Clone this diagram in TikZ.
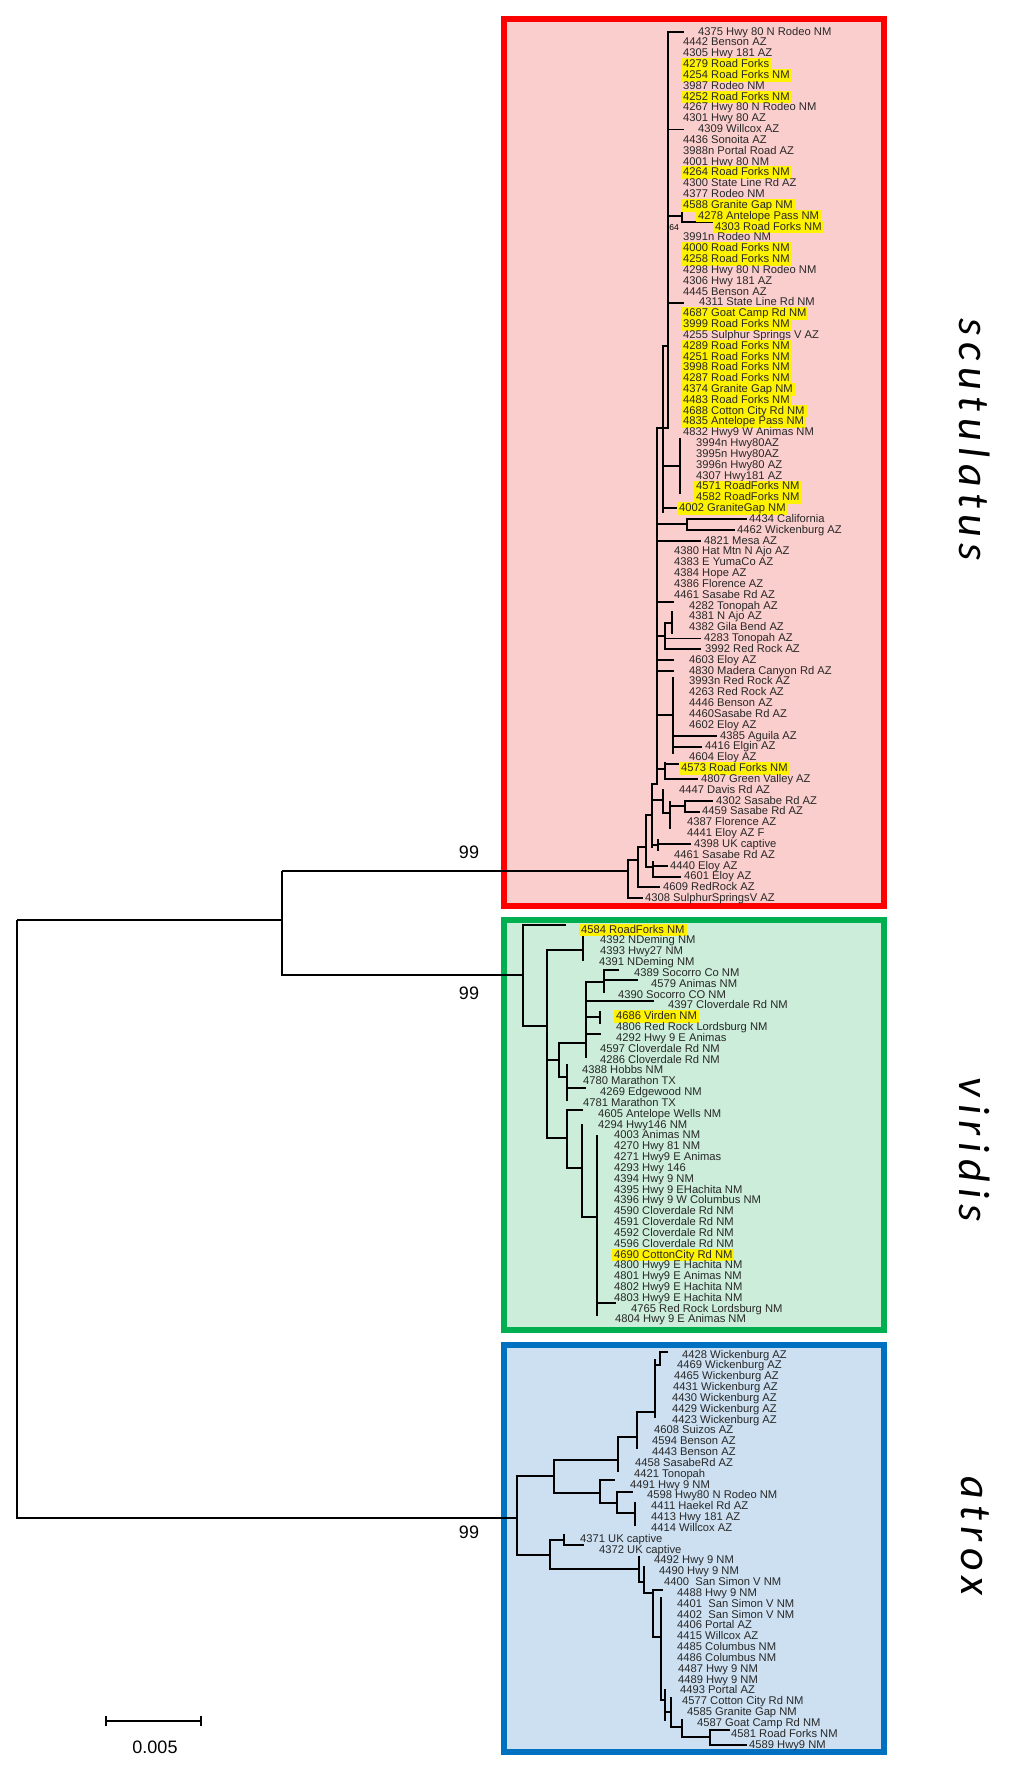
\documentclass[tikz,border=0pt]{standalone}
\usepackage{fontspec}
\setmainfont{Liberation Sans}
\newfontfamily\spf[LetterSpace=15]{Carlito}
\begin{document}
\begin{tikzpicture}[x=1pt,y=-1pt,
  lbl/.style={anchor=west,inner xsep=2pt,inner ysep=0.8pt,text height=8.6pt,text depth=2.4pt,
     font=\fontsize{11.2}{11.2}\selectfont,text={rgb,255:red,40;green,40;blue,40}},
  hl0/.style={}, hl1/.style={fill=yellow},
  br/.style={line width=1.5pt,line cap=rect},
  stem/.style={line width=1.3pt},
  sp/.style={rotate=-90,font=\spf\itshape\fontsize{44}{44}\selectfont},
  bs/.style={font=\fontsize{18}{18}\selectfont}]
\useasboundingbox (0,0) rectangle (1024,1775);
% boxes
\draw[line width=6pt,draw={rgb,255:red,255;green,0;blue,0},fill={rgb,255:red,251;green,206;blue,206}] (504,19) rectangle (884,906);
\draw[line width=6pt,draw={rgb,255:red,0;green,176;blue,80},fill={rgb,255:red,204;green,237;blue,218}] (504,920) rectangle (884,1330);
\draw[line width=6pt,draw={rgb,255:red,0;green,112;blue,192},fill={rgb,255:red,204;green,224;blue,242}] (504,1345) rectangle (884,1752);
% species
\node[sp] (nsc) at (975,440) {scutulatus};
\node[sp] (nvi) at (975,1150) {viridis};
\node[sp] (nat) at (975,1536) {atrox};
% backbone
\draw[stem] (282,871) -- (628,871);
\draw[stem] (282,871) -- (282,975) -- (523,975);
\draw[stem] (17,920) -- (282,920);
\draw[stem] (17,920) -- (17,1518) -- (517,1518);
\node[bs] (b1) at (469,852) {99};
\node[bs] (b2) at (469,993) {99};
\node[bs] (b3) at (469,1532) {99};
\node[font=\fontsize{8.5}{8.5}\selectfont,inner sep=0] (b64) at (674,228) {64};
% scale bar
\draw[stem] (106,1721) -- (201,1721);
\draw[stem] (106,1716) -- (106,1726) (201,1716) -- (201,1726);
\node[bs] (scl) at (155,1747) {0.005};
% scutulatus tree
\draw[br] (668,32)--(668,428) (668,32)--(683,32) (668,129.5)--(683,129.5) (668,303)--(683,303)
 (668,216)--(682,216) (682,211)--(682,222) (682,211)--(696,211) (682,222)--(713,222)
 (663,346)--(663,512) (663,346)--(668,346) (680,439)--(680,493) (663,466)--(680,466) (663,508)--(677,508)
 (657,428)--(668,428) (657,428)--(657,784)
 (657,524)--(687,524) (687,519)--(687,530) (687,519)--(746,519) (687,530)--(734,530)
 (657,541)--(700,541) (657,602)--(673,602)
 (672,612)--(672,633) (665,623)--(672,623) (665,623)--(665,649) (657,636)--(665,636) (665,638.5)--(700,638.5) (665,649)--(700,649)
 (657,660)--(673,660) (657,671)--(673,671)
 (673,678)--(673,753) (657,715)--(673,715) (673,736)--(716,736) (673,747)--(701,747)
 (665,763)--(665,779) (657,769)--(665,769) (665,764)--(678,764) (665,779)--(697,779)
 (652,784)--(652,847) (652,784)--(657,784)
 (663,790)--(663,813) (652,800)--(663,800) (670,802)--(670,828) (663,813)--(670,813) (670,806)--(685,806) (685,801)--(685,812) (685,801)--(712,801) (685,812)--(699,812)
 (652,845)--(658,845) (658,840)--(658,850) (658,844)--(690,844)
 (646,815)--(646,867) (646,815)--(652,815) (646,867)--(653,867) (653,862)--(653,877) (653,877)--(680,877) (653,866)--(667,866)
 (638,847)--(638,887) (638,847)--(646,847) (638,887)--(659,887)
 (628,860)--(628,898) (628,860)--(638,860) (628,898)--(642,898);
% viridis tree
\draw[br] (523,925)--(523,1026) (523,925)--(565,925) (523,1026)--(547,1026)
 (547,950)--(547,1138) (547,950)--(583,950) (583,937)--(583,960)
 (547,1060)--(559,1060) (559,1043)--(559,1077) (559,1043)--(586,1043)
 (586,982)--(586,1057) (586,982)--(604,982) (604,970)--(604,992) (604,970)--(618,970) (604,980)--(637,980)
 (586,1001)--(653,1001) (586,1017)--(600,1017) (600,1012)--(600,1023) (586,1034)--(600,1034)
 (559,1077)--(567,1077) (567,1065)--(567,1100) (567,1088)--(585,1088)
 (547,1138)--(567,1138) (567,1110)--(567,1168) (567,1110)--(582,1110) (567,1168)--(582,1168)
 (582,1125)--(582,1217) (582,1217)--(597,1217) (597,1136)--(597,1315) (597,1303)--(615,1303);
% atrox tree
\draw[br] (517,1476)--(517,1555) (517,1476)--(554,1476) (554,1460)--(554,1493)
 (554,1460)--(618,1460) (618,1437)--(618,1471) (618,1437)--(637,1437) (637,1412)--(637,1448)
 (637,1412)--(655,1412) (655,1360)--(655,1417) (655,1365)--(660,1365) (660,1352)--(660,1365) (660,1352)--(667,1352)
 (554,1493)--(600,1493) (600,1480)--(600,1503) (600,1480)--(614,1480) (600,1503)--(617,1503)
 (617,1492)--(617,1513) (617,1492)--(632,1492) (617,1513)--(635,1513) (635,1503)--(635,1525)
 (517,1555)--(550,1555) (550,1540)--(550,1569) (550,1540)--(564,1540) (564,1535)--(564,1545) (564,1545)--(583,1545)
 (550,1569)--(639,1569) (639,1557)--(639,1582) (639,1582)--(644,1582) (644,1567)--(644,1593)
 (644,1593)--(653,1593) (653,1590)--(653,1637) (653,1590)--(662,1590) (653,1637)--(661,1637)
 (661,1598)--(661,1700) (661,1700)--(665,1700) (665,1690)--(665,1720) (665,1712)--(671,1712) (671,1698)--(671,1727)
 (671,1727)--(682,1727) (682,1720)--(682,1737) (682,1737)--(710,1737) (710,1730)--(710,1745)
 (710,1730)--(729,1730) (710,1745)--(746,1745);
% scutulatus labels
\foreach \x/\h/\t [count=\i] in {698/0/4375 Hwy 80 N Rodeo NM,683/0/4442 Benson AZ,683/0/4305 Hwy 181 AZ,683/1/4279 Road Forks,683/1/4254 Road Forks NM,683/0/3987 Rodeo NM,683/1/4252 Road Forks NM,683/0/4267 Hwy 80 N Rodeo NM,683/0/4301 Hwy 80 AZ,698/0/4309 Willcox AZ,
683/0/4436 Sonoita AZ,683/0/3988n Portal Road AZ,683/0/4001 Hwy 80 NM,683/1/4264 Road Forks NM,683/0/4300 State Line Rd AZ,683/0/4377 Rodeo NM,683/1/4588 Granite Gap NM,698/1/4278 Antelope Pass NM,715/1/4303 Road Forks NM,683/0/3991n Rodeo NM,
683/1/4000 Road Forks NM,683/1/4258 Road Forks NM,683/0/4298 Hwy 80 N Rodeo NM,683/0/4306 Hwy 181 AZ,683/0/4445 Benson AZ,699/0/4311 State Line Rd NM,683/1/4687 Goat Camp Rd NM,683/1/3999 Road Forks NM,683/0/4255 Sulphur Springs V AZ,683/1/4289 Road Forks NM,
683/1/4251 Road Forks NM,683/1/3998 Road Forks NM,683/1/4287 Road Forks NM,683/1/4374 Granite Gap NM,683/1/4483 Road Forks NM,683/1/4688 Cotton City Rd NM,683/1/4835 Antelope Pass NM,683/0/4832 Hwy9 W Animas NM,696/0/3994n Hwy80AZ,696/0/3995n Hwy80AZ,
696/0/3996n Hwy80 AZ,696/0/4307 Hwy181 AZ,696/1/4571 RoadForks NM,696/1/4582 RoadForks NM,679/1/4002 GraniteGap NM,749/0/4434 California,737/0/4462 Wickenburg AZ,704/0/4821 Mesa AZ,674/0/4380 Hat Mtn N Ajo AZ,674/0/4383 E YumaCo AZ,
674/0/4384 Hope AZ,674/0/4386 Florence AZ,674/0/4461 Sasabe Rd AZ,689/0/4282 Tonopah AZ,689/0/4381 N Ajo AZ,689/0/4382 Gila Bend AZ,704/0/4283 Tonopah AZ,705/0/3992 Red Rock AZ,689/0/4603 Eloy AZ,689/0/4830 Madera Canyon Rd AZ,
689/0/3993n Red Rock AZ,689/0/4263 Red Rock AZ,689/0/4446 Benson AZ,689/0/4460Sasabe Rd AZ,689/0/4602 Eloy AZ,720/0/4385 Aguila AZ,705/0/4416 Elgin AZ,689/0/4604 Eloy AZ,681/1/4573 Road Forks NM,701/0/4807 Green Valley AZ,
679/0/4447 Davis Rd AZ,716/0/4302 Sasabe Rd AZ,702/0/4459 Sasabe Rd AZ,687/0/4387 Florence AZ,687/0/4441 Eloy AZ F,694/0/4398 UK captive,674/0/4461 Sasabe Rd AZ,670/0/4440 Eloy AZ,684/0/4601 Eloy AZ,663/0/4609 RedRock AZ,
645/0/4308 SulphurSpringsV AZ}
  \node[lbl,hl\h] (s\i) at (\x-2,{32+(\i-1)*10.83}) {\t};
% viridis labels
\foreach \x/\h/\t [count=\i] in {581/1/4584 RoadForks NM,600/0/4392 NDeming NM,600/0/4393 Hwy27 NM,599/0/4391 NDeming NM,634/0/4389 Socorro Co NM,651/0/4579 Animas NM,618/0/4390 Socorro CO NM,668/0/4397 Cloverdale Rd NM,616/1/4686 Virden NM,616/0/4806 Red Rock Lordsburg NM,
616/0/4292 Hwy 9 E Animas,600/0/4597 Cloverdale Rd NM,600/0/4286 Cloverdale Rd NM,582/0/4388 Hobbs NM,583/0/4780 Marathon TX,600/0/4269 Edgewood NM,583/0/4781 Marathon TX,598/0/4605 Antelope Wells NM,598/0/4294 Hwy146 NM,614/0/4003 Animas NM,
614/0/4270 Hwy 81 NM,614/0/4271 Hwy9 E Animas,614/0/4293 Hwy 146,614/0/4394 Hwy 9 NM,614/0/4395 Hwy 9 EHachita NM,614/0/4396 Hwy 9 W Columbus NM,614/0/4590 Cloverdale Rd NM,614/0/4591 Cloverdale Rd NM,614/0/4592 Cloverdale Rd NM,614/0/4596 Cloverdale Rd NM,
614/1/4690 CottonCity Rd NM,614/0/4800 Hwy9 E Hachita NM,614/0/4801 Hwy9 E Animas NM,614/0/4802 Hwy9 E Hachita NM,614/0/4803 Hwy9 E Hachita NM,631/0/4765 Red Rock Lordsburg NM,615/0/4804 Hwy 9 E Animas NM}
  \node[lbl,hl\h] (v\i) at (\x-2,{930+(\i-1)*10.83}) {\t};
% atrox labels
\foreach \x/\t [count=\i] in {682/4428 Wickenburg AZ,677/4469 Wickenburg AZ,674/4465 Wickenburg AZ,673/4431 Wickenburg AZ,672/4430 Wickenburg AZ,672/4429 Wickenburg AZ,672/4423 Wickenburg AZ,654/4608 Suizos AZ,652/4594 Benson AZ,652/4443 Benson AZ,
635/4458 SasabeRd AZ,634/4421 Tonopah,630/4491 Hwy 9 NM,647/4598 Hwy80 N Rodeo NM,651/4411 Haekel Rd AZ,651/4413 Hwy 181 AZ,651/4414 Willcox AZ,580/4371 UK captive,599/4372 UK captive,654/4492 Hwy 9 NM,
659/4490 Hwy 9 NM,664/4400~ San Simon V NM,677/4488 Hwy 9 NM,677/4401~ San Simon V NM,677/4402~ San Simon V NM,677/4406 Portal AZ,677/4415 Willcox AZ,677/4485 Columbus NM,677/4486 Columbus NM,678/4487 Hwy 9 NM,
678/4489 Hwy 9 NM,680/4493 Portal AZ,682/4577 Cotton City Rd NM,687/4585 Granite Gap NM,697/4587 Goat Camp Rd NM,731/4581 Road Forks NM,749/4589 Hwy9 NM}
  \node[lbl] (a\i) at (\x-2,{1355+(\i-1)*10.83}) {\t};
\end{tikzpicture}
\end{document}
